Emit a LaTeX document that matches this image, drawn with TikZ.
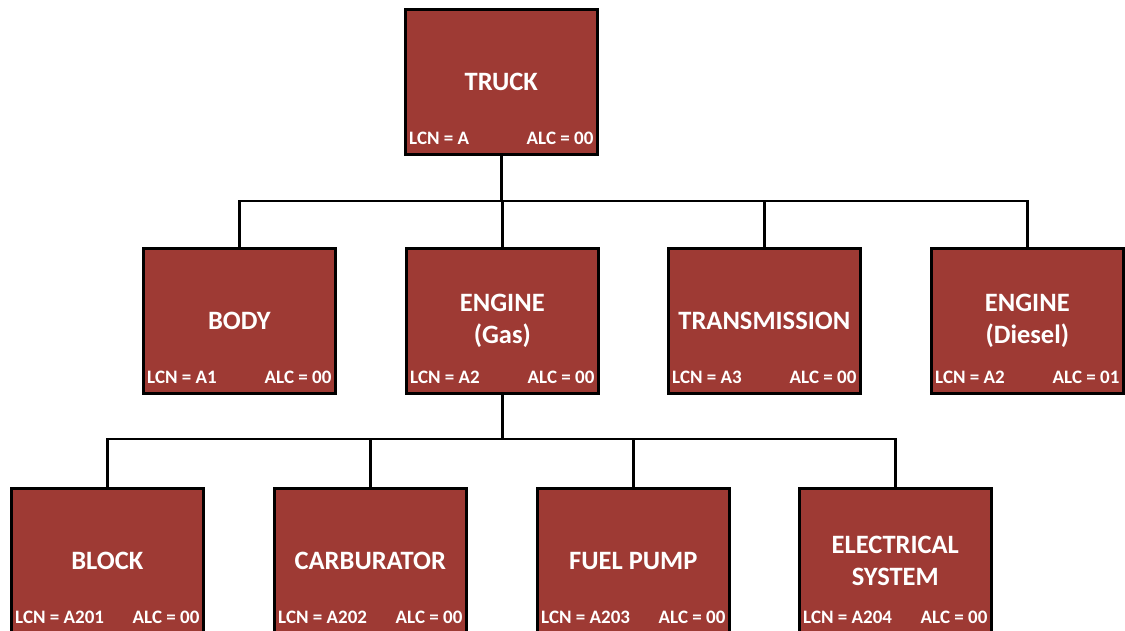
\documentclass[tikz,border=0pt]{standalone}
\usepackage{fontspec}
\setmainfont{Carlito}
\definecolor{boxred}{RGB}{158,58,52}
\begin{document}
\begin{tikzpicture}[x=1pt,y=-1pt,
  box/.style={draw=black,line width=2.6pt,fill=boxred,minimum width=192pt,minimum height=145pt,inner sep=0pt,anchor=north west,text=white,font=\bfseries\fontsize{26.5}{32}\selectfont,align=center},
  info/.style={text=white,font=\bfseries\fontsize{19}{21}\selectfont,inner sep=0pt},
  link/.style={draw=black,line width=2.6pt}]
\useasboundingbox (0,0) rectangle (1125,630);
% top
\node[box] (truck) at (404,8) {TRUCK};
% row 2
\node[box] (body) at (142,247) {BODY};
\node[box] (gas) at (405,247) {ENGINE\\(Gas)};
\node[box] (trans) at (667,247) {TRANSMISSION};
\node[box] (diesel) at (930,247) {ENGINE\\(Diesel)};
% row 3
\node[box] (block) at (10,487) {BLOCK};
\node[box] (carb) at (273,487) {CARBURATOR};
\node[box] (fuel) at (536,487) {FUEL PUMP};
\node[box] (elec) at (798,487) {ELECTRICAL\\SYSTEM};
% info labels
\foreach \n/\l/\a in {truck/A/00, body/A1/00, gas/A2/00, trans/A3/00, diesel/A2/01, block/A201/00, carb/A202/00, fuel/A203/00, elec/A204/00}{
  \node[info,anchor=west] (\n-lcn) at ([xshift=5pt,yshift=17pt]\n.south west) {LCN = \l};
  \node[info,anchor=east] (\n-alc) at ([xshift=-5pt,yshift=17pt]\n.south east) {ALC = \a};
}
% connectors
\coordinate (bus1) at (500,201);
\coordinate (bus2) at (500,439);
\draw[link] (truck.south) -- (truck.south |- bus1);
\draw[link] (body.north) |- (bus1) -| (diesel.north);
\draw[link] (gas.north |- bus1) -- (gas.north);
\draw[link] (trans.north |- bus1) -- (trans.north);
\draw[link] (gas.south) -- (gas.south |- bus2);
\draw[link] (block.north) |- (bus2) -| (elec.north);
\draw[link] (carb.north |- bus2) -- (carb.north);
\draw[link] (fuel.north |- bus2) -- (fuel.north);
\end{tikzpicture}
\end{document}
